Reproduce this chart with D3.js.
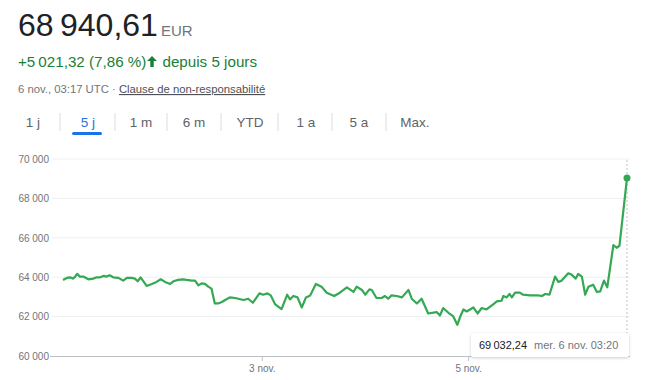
<!DOCTYPE html>
<html>
<head>
<meta charset="utf-8">
<script src="https://cdn.jsdelivr.net/npm/d3@7"></script>
<style>
  body { margin: 0; background: #fff; font-family: Arial, "Liberation Sans", sans-serif; }
</style>
</head>
<body>
<script>
// hours since start of the 5 day window, and price in EUR
var hours = [0,0.8,1.5,2.1,2.6,3.0,3.6,4.3,5.4,6.4,7.2,7.9,8.6,9.3,9.9,10.7,11.8,12.8,13.6,14.6,
  15.3,15.9,16.5,17.8,18.9,19.9,20.8,21.7,22.8,23.5,24.5,25.5,26.3,27.4,28.1,28.8,29.5,30.2,30.9,31.6,
  32.3,33.0,33.8,34.5,35.5,36.6,37.3,38.4,39.4,40.4,41.2,41.8,42.6,43.5,44.2,45.1,46.5,47.7,48.3,49.0,
  49.9,50.8,51.7,52.6,53.8,55.0,56.1,57.7,58.9,60.4,61.8,62.5,63.6,64.3,65.2,65.7,66.7,67.8,68.5,69.2,
  69.9,71.0,72.1,73.5,74.2,75.3,76.3,77.7,79.5,80.2,80.9,82.0,83.0,83.9,84.5,85.2,85.9,87.3,88.2,89.1,
  90.1,91.6,92.3,93.3,93.7,94.4,95.0,95.5,96.2,97.2,97.9,99.4,101.1,101.9,102.6,103.5,104.7,105.4,106.1,107.5,
  108.2,109.1,109.6,110.4,111.1,111.8,112.8,113.6,114.3,115.1,115.8,117.1,117.8,118.4,120];
var prices = [63862,63964,63995,63929,64031,64168,64031,64031,63893,63929,63995,63995,64066,64031,64097,63995,63964,63827,63964,63964,
  63929,63791,63995,63556,63658,63760,63893,63760,63658,63791,63862,63893,63862,63827,63827,63587,63689,63658,63520,63418,
  62668,62668,62740,62842,62975,62944,62908,62842,62908,62704,62975,63179,63112,63179,63077,62638,62383,63112,62873,63046,
  62975,62464,62975,63077,63658,63520,63214,63046,63214,63485,63250,63520,63352,63112,63383,63352,62944,62944,63046,62908,
  63077,63046,62975,63352,62908,62668,62908,62158,62230,62056,62434,62194,62026,61582,61990,62362,62260,62464,62158,62434,
  62362,62638,62770,62806,63046,62975,63148,62975,63214,63214,63112,63077,63077,63046,63148,63112,64031,63760,63827,64199,
  64133,63929,64168,64031,63112,63520,63622,63250,63281,63827,63485,65628,65495,65597,69032.24];

var yTicks = [60000,62000,64000,66000,68000,70000];
var xTickHours = [42.3, 86.2];
var xTickLabels = ["3 nov.", "5 nov."];
var tabs = ["1 j","5 j","1 m","6 m","YTD","1 a","5 a","Max."];

var W = 650, H = 380;
var svg = d3.select("body").append("svg").attr("width", W).attr("height", H);

// en-tête
var t1 = svg.append("text").attr("x", 18).attr("y", 36);
t1.append("tspan").text("68\u2009940,61").attr("font-size", 32).attr("fill", "#202124");
t1.append("tspan").text("EUR").attr("font-size", 15).attr("fill", "#70757a").attr("dx", 3);

var green = "#188038";
var t2 = svg.append("text").attr("x", 18).attr("y", 67).attr("font-size", 15.2).attr("fill", green);
t2.append("tspan").text("+5\u2009021,32 (7,86\u00a0%)");
t2.append("tspan").text("depuis 5 jours").attr("dx", 16);
// flèche montante
var ax = 152, ay = 62;
svg.append("path")
  .attr("d", "M" + ax + "," + (ay - 6) + "l5,5h-3.3v6h-3.4v-6h-3.3z")
  .attr("fill", green);

var t3 = svg.append("text").attr("x", 18).attr("y", 93).attr("font-size", 11.3).attr("fill", "#70757a");
t3.append("tspan").text("6 nov., 03:17 UTC \u00b7 ");
t3.append("tspan").text("Clause de non-responsabilit\u00e9").attr("fill", "#4d5156").attr("text-decoration", "underline");

// onglets
var tabX = [33, 88, 141, 194, 250, 306, 359, 415];
var sepX = [60, 115, 167, 221, 278, 332, 386];
svg.selectAll(".tab").data(tabs).enter().append("text")
  .attr("x", function(d, i) { return tabX[i]; })
  .attr("y", 127)
  .attr("text-anchor", "middle")
  .attr("font-size", 13.5)
  .attr("fill", function(d, i) { return i == 1 ? "#1a73e8" : "#5f6368"; })
  .text(function(d) { return d; });
svg.selectAll(".sep").data(sepX).enter().append("line")
  .attr("x1", function(d) { return d; }).attr("x2", function(d) { return d; })
  .attr("y1", 113).attr("y2", 131)
  .attr("stroke", "#dadce0");
svg.append("rect").attr("x", 72).attr("y", 132).attr("width", 30).attr("height", 3)
  .attr("rx", 1.5).attr("fill", "#1a73e8");

// graphique
var x = d3.scaleLinear().domain([0, 120]).range([63, 627]);
var y = d3.scaleLinear().domain([60000, 70000]).range([356, 159]);

svg.selectAll(".grid").data(yTicks.slice(1)).enter().append("line")
  .attr("x1", 52).attr("x2", 630)
  .attr("y1", function(d) { return y(d); }).attr("y2", function(d) { return y(d); })
  .attr("stroke", "#eef0f2");

var fmt = function(d) { return d3.format(",")(d).replace(",", " "); };
svg.append("g").attr("transform", "translate(50,0)")
  .call(d3.axisLeft(y).tickValues(yTicks).tickSize(0).tickPadding(1).tickFormat(fmt))
  .call(function(g) {
    g.select(".domain").remove();
    g.selectAll("text").attr("font-size", 10).attr("fill", "#70757a")
      .attr("font-family", "Arial, 'Liberation Sans', sans-serif");
  });

svg.append("g").attr("transform", "translate(0,356)")
  .call(d3.axisBottom(x).tickValues(xTickHours).tickSize(5).tickPadding(4)
    .tickFormat(function(d, i) { return xTickLabels[i]; }))
  .call(function(g) {
    g.select(".domain").attr("d", "M50,0.5H630").attr("stroke", "#bdc1c6");
    g.selectAll(".tick line").attr("stroke", "#bdc1c6");
    g.selectAll("text").attr("font-size", 10).attr("fill", "#70757a")
      .attr("font-family", "Arial, 'Liberation Sans', sans-serif");
  });

var pts = hours.map(function(h, i) { return [h, prices[i]]; });
var last = pts[pts.length - 1];

svg.append("line")
  .attr("x1", x(last[0])).attr("x2", x(last[0]))
  .attr("y1", 160).attr("y2", 356)
  .attr("stroke", "#bdc1c6").attr("stroke-dasharray", "2,2");

svg.append("path").datum(pts)
  .attr("fill", "none")
  .attr("stroke", "#34a853")
  .attr("stroke-width", 2.2)
  .attr("stroke-linejoin", "round")
  .attr("d", d3.line().x(function(d) { return x(d[0]); }).y(function(d) { return y(d[1]); }));

svg.append("circle").attr("cx", x(last[0])).attr("cy", y(last[1])).attr("r", 3.5).attr("fill", "#34a853");

// infobulle
var defs = svg.append("defs");
var f = defs.append("filter").attr("id", "sh").attr("x", -0.2).attr("y", -0.5).attr("width", 1.4).attr("height", 2);
f.append("feDropShadow").attr("dx", 0).attr("dy", 1).attr("stdDeviation", 1.5).attr("flood-color", "#000").attr("flood-opacity", 0.2);
svg.append("rect").attr("x", 471).attr("y", 333).attr("width", 158).attr("height", 24)
  .attr("rx", 2).attr("fill", "#fff").attr("filter", "url(#sh)");
var tt = svg.append("text").attr("x", 479).attr("y", 349).attr("font-size", 11);
tt.append("tspan").text("69\u2009032,24").attr("fill", "#202124");
tt.append("tspan").text("mer. 6 nov. 03:20").attr("fill", "#70757a").attr("dx", 7);
</script>
</body>
</html>
